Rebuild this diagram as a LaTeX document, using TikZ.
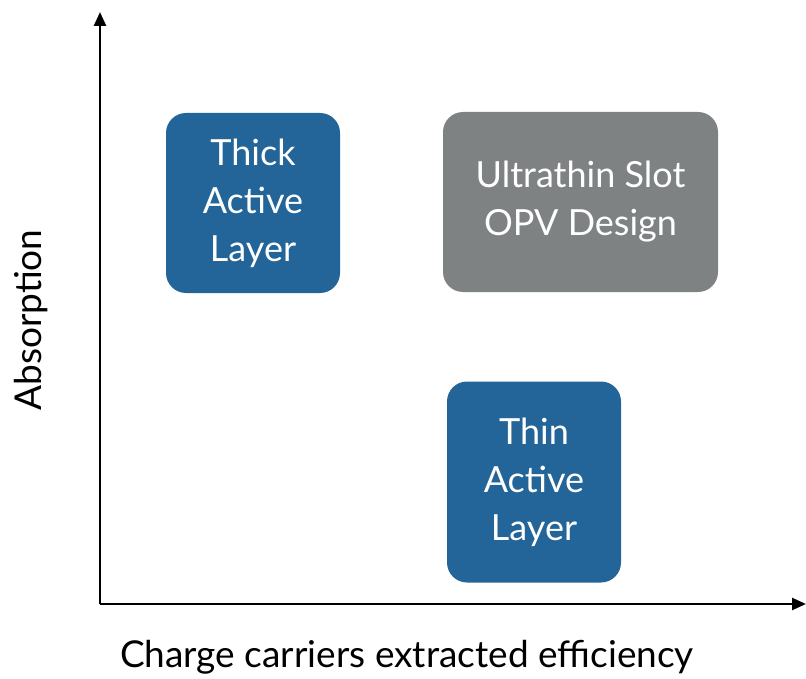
\documentclass[tikz,border=0pt]{standalone}
\usepackage{fontspec}
\setmainfont{Lato}
\usetikzlibrary{arrows.meta}
\definecolor{boxblue}{HTML}{236598}
\definecolor{boxgray}{HTML}{7F8283}
\begin{document}
\begin{tikzpicture}[x=1pt,y=-1pt,
  card/.style={rounded corners=20pt, align=center, text=white, inner sep=0pt,
    font=\fontsize{36}{48}\selectfont},
  axis/.style={line width=2.5pt, -{Triangle[length=14pt,width=12pt]}},
  lbl/.style={font=\fontsize{37}{44}\selectfont}]
\useasboundingbox (0,0) rectangle (806,679);
\coordinate (o) at (100,604);
\coordinate (ytip) at (100,12);
\coordinate (xtip) at (806,604);
\draw[axis] (o) -- (ytip);
\draw[axis] (o) -- (xtip);
\node[card, fill=boxblue, minimum width=174pt, minimum height=180pt] (thick) at (253,203) {Thick\\Active\\Layer};
\node[card, fill=boxgray, minimum width=275pt, minimum height=180pt] (ultra) at (580.5,202) {Ultrathin Slot\\OPV Design};
\node[card, fill=boxblue, minimum width=174pt, minimum height=201pt] (thin) at (534,482) {Thin\\Active\\Layer};
\node[lbl, rotate=90] (ylab) at (31,320) {Absorption};
\node[lbl] (xlab) at (407,657) {Charge carriers extracted efficiency};
\end{tikzpicture}
\end{document}
